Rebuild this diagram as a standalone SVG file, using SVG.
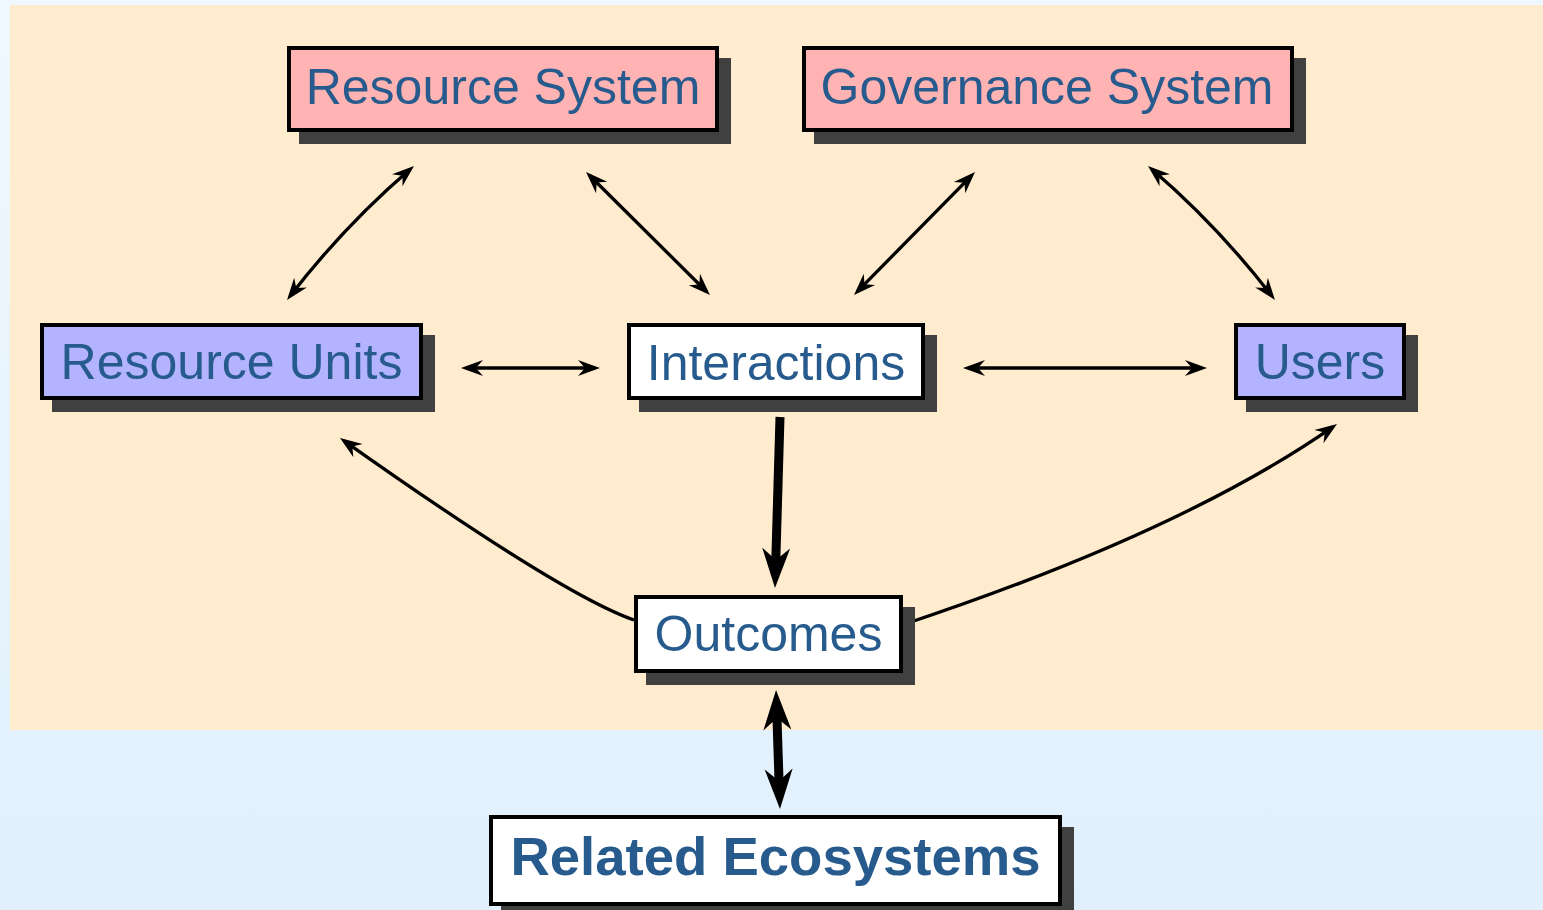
<svg xmlns="http://www.w3.org/2000/svg" width="1543" height="910" viewBox="0 0 1543 910">
<style>
.box{stroke:#000;stroke-width:4}
.shadow{fill:#404040}
.sys{fill:#ffb3b3}
.unit{fill:#b3b3ff}
.plain{fill:#fff}
.lbl{font-family:"Liberation Sans",Arial,sans-serif;font-size:50px;fill:#275b8d;text-anchor:middle}
.bold{font-weight:bold;font-size:54.5px}
.thin{fill:none;stroke:#000;stroke-width:3.3}
.thick{fill:none;stroke:#000;stroke-width:9}
</style>
<defs>
<linearGradient id="bg" x1="0" y1="0" x2="0" y2="1">
<stop offset="0" stop-color="#f0f8ff"/>
<stop offset="1" stop-color="#e0f0fc"/>
</linearGradient>
<marker id="ah" markerUnits="userSpaceOnUse" markerWidth="60" markerHeight="60" refX="-5" refY="0" orient="auto-start-reverse" overflow="visible">
<path d="M0,0 L-22,-8 L-15,0 L-22,8 Z" fill="#000"/>
</marker>
<marker id="ahb" markerUnits="userSpaceOnUse" markerWidth="90" markerHeight="90" refX="-14" refY="0" orient="auto-start-reverse" overflow="visible">
<path d="M0,0 L-40,-14 L-28,0 L-40,14 Z" fill="#000"/>
</marker>
</defs>
<rect x="0" y="0" width="1543" height="910" fill="url(#bg)"/>
<rect x="10" y="5" width="1533" height="725" fill="#ffebcd"/>
<g id="connectors">
<path class="thin" d="M290.1,296 Q345,225 410.2,169.2" marker-start="url(#ah)" marker-end="url(#ah)"/>
<path class="thin" d="M589.6,175.5 L706.4,291.5" marker-start="url(#ah)" marker-end="url(#ah)"/>
<path class="thin" d="M971.5,175.6 L857.5,291.4" marker-start="url(#ah)" marker-end="url(#ah)"/>
<path class="thin" d="M1271.9,296 Q1217,225 1151.8,169.2" marker-start="url(#ah)" marker-end="url(#ah)"/>
<path class="thin" d="M466,368 L595,368" marker-start="url(#ah)" marker-end="url(#ah)"/>
<path class="thin" d="M968,368 L1202,368" marker-start="url(#ah)" marker-end="url(#ah)"/>
<path class="thin" d="M634,620 Q562,595 344.1,440.8" marker-end="url(#ah)"/>
<path class="thin" d="M902,625 Q1182,532 1332.9,426.9" marker-end="url(#ah)"/>
<path class="thick" d="M780,417 L775.4,574" marker-end="url(#ahb)"/>
<path class="thick" d="M776.5,704 L779.5,795" marker-start="url(#ahb)" marker-end="url(#ahb)"/>
</g>
<g id="resource-system">
<rect class="shadow" x="299" y="58" width="432" height="86"/>
<rect class="box sys" x="289" y="48" width="428" height="82"/>
<text class="lbl" x="503" y="104">Resource System</text>
</g>
<g id="governance-system">
<rect class="shadow" x="814" y="58" width="492" height="86"/>
<rect class="box sys" x="804" y="48" width="488" height="82"/>
<text class="lbl" x="1047" y="104">Governance System</text>
</g>
<g id="resource-units">
<rect class="shadow" x="52" y="335" width="383" height="77"/>
<rect class="box unit" x="42" y="325" width="379" height="73"/>
<text class="lbl" x="231.5" y="379">Resource Units</text>
</g>
<g id="interactions">
<rect class="shadow" x="639" y="335" width="298" height="77"/>
<rect class="box plain" x="629" y="325" width="294" height="73"/>
<text class="lbl" x="776" y="380">Interactions</text>
</g>
<g id="users">
<rect class="shadow" x="1246" y="335" width="172" height="77"/>
<rect class="box unit" x="1236" y="325" width="168" height="73"/>
<text class="lbl" x="1320" y="379">Users</text>
</g>
<g id="outcomes">
<rect class="shadow" x="646" y="607" width="269" height="78"/>
<rect class="box plain" x="636" y="597" width="265" height="74"/>
<text class="lbl" x="768.5" y="651">Outcomes</text>
</g>
<g id="related-ecosystems">
<rect class="shadow" x="501" y="827" width="573" height="91"/>
<rect class="box plain" x="491" y="817" width="569" height="87"/>
<text class="lbl bold" x="775.5" y="875">Related Ecosystems</text>
</g>
</svg>
